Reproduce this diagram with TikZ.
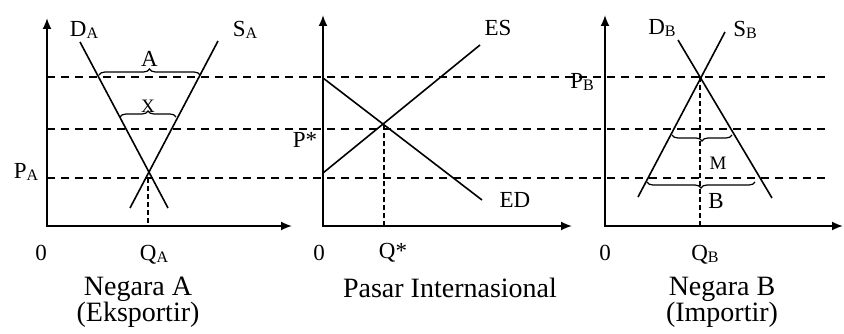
\documentclass[tikz,border=0pt]{standalone}
\usepackage{fontspec}
\setmainfont{Liberation Serif}
\usetikzlibrary{arrows.meta,decorations.pathreplacing}

\newcommand{\sublbl}[1]{\raisebox{-1.5pt}{\fontsize{16}{16}\selectfont #1}}

\begin{document}
\begin{tikzpicture}[x=1pt,y=-1pt,>={Latex[length=11pt,width=9pt]},
  axis/.style={<->,line width=1.8pt},
  curve/.style={line width=1.6pt},
  price/.style={line width=1.3pt,dash pattern=on 8pt off 6pt},
  eqline/.style={line width=2.6pt,dash pattern=on 5pt off 3pt},
  qbrace/.style={decorate,decoration={brace,amplitude=6pt},line width=1.2pt},
  lbl/.style={font=\fontsize{23}{24}\selectfont},
  smlbl/.style={font=\fontsize{19}{20}\selectfont},
  captxt/.style={font=\fontsize{28}{26}\selectfont,align=center}]
  \useasboundingbox (0,0) rectangle (844,334);

  % price levels across all three panels
  \foreach \lev/\y in {hi/77,mid/129,lo/178}{
    \coordinate (\lev L) at (47,\y);
    \coordinate (\lev R) at (830,\y);
    \draw[price] (\lev L) -- (\lev R);
  }

  % Negara A
  \coordinate (oA) at (47,226);
  \draw[axis] (47,18) -- (oA) -- (292,226);
  \coordinate (DAa) at (80,42);   \coordinate (DAb) at (168,208);
  \coordinate (SAa) at (130,208); \coordinate (SAb) at (218,41);
  \draw[curve] (DAa) -- (DAb);
  \draw[curve] (SAa) -- (SAb);
  \coordinate (eA) at (148,178);
  \draw[eqline] (eA) -- (148,226);
  \draw[qbrace] (99,75) -- (200,75) node[midway,above=5pt,lbl] (lA) {A};
  \draw[qbrace] (120,117) -- (176,117) node[midway,above=1pt,smlbl] (lX) {X};
  \node[lbl] (nDA) at (84,30) {D\sublbl{A}};
  \node[lbl] (nSA) at (245,30) {S\sublbl{A}};
  \node[lbl] (nPA) at (26,172) {P\sublbl{A}};
  \node[lbl] (n0A) at (41,253) {0};
  \node[lbl] (nQA) at (154,255) {Q\sublbl{A}};
  \node[captxt] (tA) at (138,302) {Negara A\\(Eksportir)};

  % Pasar Internasional
  \coordinate (oW) at (323,226);
  \draw[axis] (323,15) -- (oW) -- (572,226);
  \coordinate (EDa) at (323,78);  \coordinate (EDb) at (482,200);
  \coordinate (ESa) at (323,173); \coordinate (ESb) at (480,45);
  \draw[curve] (EDa) -- (EDb);
  \draw[curve] (ESa) -- (ESb);
  \coordinate (eW) at (384,125);
  \draw[eqline] (eW) -- (384,226);
  \node[lbl] (nES) at (498,28) {ES};
  \node[lbl] (nED) at (515,200) {ED};
  \node[lbl] (nPW) at (305,140) {P*};
  \node[lbl] (n0W) at (319,253) {0};
  \node[lbl] (nQW) at (393,253) {Q*};
  \node[captxt] (tW) at (450,288) {Pasar Internasional};

  % Negara B
  \coordinate (oB) at (605,226);
  \draw[axis] (605,15) -- (oB) -- (843,226);
  \coordinate (DBa) at (678,40);  \coordinate (DBb) at (772,198);
  \coordinate (SBa) at (638,197); \coordinate (SBb) at (725,32);
  \draw[curve] (DBa) -- (DBb);
  \draw[curve] (SBa) -- (SBb);
  \coordinate (eB) at (700,77);
  \draw[eqline] (eB) -- (700,226);
  \draw[qbrace] (732,135) -- (672,135);
  \draw[qbrace] (755,182) -- (647,182);
  \node[smlbl] (lM) at (718,163) {M};
  \node[lbl] (lB) at (716,201) {B};
  \node[lbl] (nDB) at (662,28) {D\sublbl{B}};
  \node[lbl] (nSB) at (745,30) {S\sublbl{B}};
  \node[lbl] (nPB) at (582,82) {P\sublbl{B}};
  \node[lbl] (n0B) at (605,253) {0};
  \node[lbl] (nQB) at (705,255) {Q\sublbl{B}};
  \node[captxt] (tB) at (722,302) {Negara B\\(Importir)};
\end{tikzpicture}
\end{document}
